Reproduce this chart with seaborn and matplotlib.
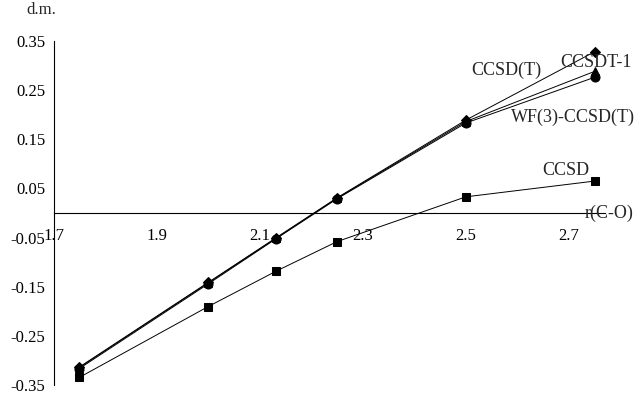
import matplotlib
matplotlib.use("Agg")
import matplotlib.pyplot as plt
import pandas as pd
import numpy as np
import seaborn as sns

# Data
r_co = [1.75, 2.0, 2.132, 2.25, 2.5, 2.75]
ccsd = [-0.334, -0.190, -0.118, -0.058, 0.033, 0.065]
ccsd_t = [-0.313, -0.141, -0.050, 0.031, 0.189, 0.328]
ccsdt_1 = [-0.314, -0.142, -0.051, 0.030, 0.186, 0.288]
wf3_ccsd_t = [-0.316, -0.144, -0.052, 0.029, 0.183, 0.276]

series_names = ["CCSD", "CCSD(T)", "CCSDT-1", "WF(3)-CCSD(T)"]
x_ticks = [1.7, 1.9, 2.1, 2.3, 2.5, 2.7]
y_ticks = [-0.35, -0.25, -0.15, -0.05, 0.05, 0.15, 0.25, 0.35]

df = pd.DataFrame({
    "r": r_co * 4,
    "dm": ccsd + ccsd_t + ccsdt_1 + wf3_ccsd_t,
    "method": np.repeat(series_names, len(r_co)),
})

sns.set_style("white")
plt.rcParams["font.family"] = ["Liberation Serif", "DejaVu Serif"]

fig = plt.figure(figsize=(6.37, 3.96), dpi=100)
ax = fig.add_axes([0.084, 0.027, 0.866, 0.870])

markers = {"CCSD": "s", "CCSD(T)": "D", "CCSDT-1": "^", "WF(3)-CCSD(T)": "o"}
sizes = {"CCSD": 6, "CCSD(T)": 5, "CCSDT-1": 6, "WF(3)-CCSD(T)": 6.5}
for name in series_names:
    sub = df[df["method"] == name]
    sns.lineplot(data=sub, x="r", y="dm", ax=ax, color="black", linewidth=0.7,
                 marker=markers[name], markersize=sizes[name],
                 markeredgecolor="black", markerfacecolor="black", sort=False,
                 legend=False)

ax.set_xlim(1.7, 2.77)
ax.set_ylim(-0.35, 0.35)
ax.set_xticks(x_ticks)
ax.set_yticks(y_ticks)
ax.set_xticklabels([f"{v:.1f}" for v in x_ticks])
ax.set_yticklabels([f"{v:.2f}" for v in y_ticks])
ax.set_xlabel("")
ax.set_ylabel("")

ax.spines["top"].set_visible(False)
ax.spines["right"].set_visible(False)
ax.spines["bottom"].set_position(("data", 0))
for s in ("left", "bottom"):
    ax.spines[s].set_linewidth(0.8)
    ax.spines[s].set_color("black")
ax.tick_params(axis="both", direction="inout", length=8, width=0.8,
               labelsize=12, colors="black")
ax.tick_params(axis="x", pad=7)
ax.tick_params(axis="y", pad=2)

# curve labels
ax.text(2.578, 0.289, "CCSD(T)", fontsize=13, ha="center", va="center")
ax.text(2.752, 0.305, "CCSDT-1", fontsize=13, ha="center", va="center")
ax.text(2.707, 0.195, "WF(3)-CCSD(T)", fontsize=13, ha="center", va="center")
ax.text(2.694, 0.086, "CCSD", fontsize=13, ha="center", va="center")

# axis titles
fig.text(41 / 637, 1 - 10 / 396, "d.m.", fontsize=12, ha="center", va="center")
fig.text(634 / 637, 1 - 213 / 396, "r(C-O)", fontsize=13, ha="right", va="center")

fig.savefig("out.png", dpi=100)
